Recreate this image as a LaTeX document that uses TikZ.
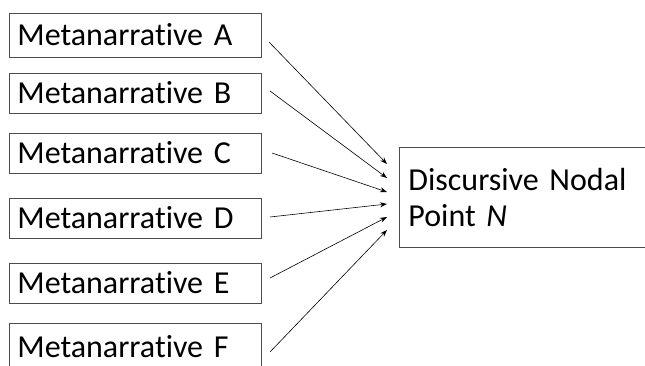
\documentclass[tikz,border=0pt]{standalone}
\usepackage{fontspec}
\setmainfont{Carlito}[Ligatures=NoCommon]
\usetikzlibrary{arrows.meta}
\begin{document}
\begin{tikzpicture}[x=1pt,y=-1pt,
  mbox/.style={draw=black!70, line width=0.8pt, anchor=north west, inner xsep=8pt, inner ysep=0pt,
    minimum width=252pt, text width=236pt, align=left, font=\fontsize{32}{37}\selectfont,
    text height=20.6pt, text depth=0pt},
  nbox/.style={draw=black!70, line width=0.8pt, anchor=north west, inner xsep=9pt,
    minimum width=300pt, minimum height=100pt, text width=282pt, align=left,
    font=\fontsize{32}{36.5}\selectfont},
  arr/.style={line width=0.6pt, -{Stealth[length=7pt,width=5pt]}}]
\useasboundingbox (0,0) rectangle (645,366);
\clip (0,0) rectangle (645,366);
\node[mbox, minimum height=44pt] (A) at (9,13) {Metanarrative A};
\node[mbox, minimum height=40pt] (B) at (9,73) {Metanarrative B};
\node[mbox, minimum height=40pt] (C) at (9,133) {Metanarrative C};
\node[mbox, minimum height=40pt] (D) at (9,198) {Metanarrative D};
\node[mbox, minimum height=40pt] (E) at (9,263) {Metanarrative E};
\node[mbox, minimum height=48pt] (F) at (9,323) {Metanarrative F};
\node[nbox] (N) at (399,147) {Discursive Nodal\\Point \textit{N}};
\coordinate (sA) at (269,42);
\coordinate (sB) at (270,91);
\coordinate (sC) at (272,153);
\coordinate (sD) at (270,217);
\coordinate (sE) at (270,278);
\coordinate (sF) at (270,352);
\coordinate (tA) at (387,164);
\coordinate (tB) at (387,178);
\coordinate (tC) at (387,192);
\coordinate (tD) at (387,204);
\coordinate (tE) at (387,217);
\coordinate (tF) at (387,230);
\draw[arr] (sA) -- (tA);
\draw[arr] (sB) -- (tB);
\draw[arr] (sC) -- (tC);
\draw[arr] (sD) -- (tD);
\draw[arr] (sE) -- (tE);
\draw[arr] (sF) -- (tF);
\end{tikzpicture}
\end{document}
